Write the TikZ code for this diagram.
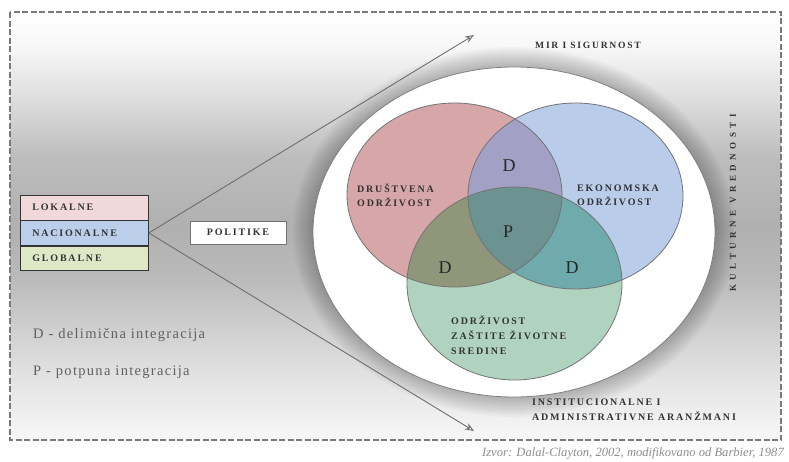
\documentclass[tikz,border=0pt]{standalone}
\usepackage{fontspec}
\setmainfont{Liberation Serif}
\newfontfamily\capsfont[LetterSpace=18]{Liberation Serif}
\newfontfamily\widecaps[LetterSpace=50]{Liberation Serif}
\newfontfamily\legendfont[LetterSpace=9]{Liberation Serif}
\usetikzlibrary{arrows.meta}

\definecolor{framegray}{HTML}{7A7A7A}
\definecolor{inkgray}{HTML}{333333}
\definecolor{linegray}{HTML}{6E6E6E}
\definecolor{boxpink}{HTML}{F1D9DB}
\definecolor{boxblue}{HTML}{BBCFEB}
\definecolor{boxgreen}{HTML}{DEE8C6}
\definecolor{vpink}{HTML}{D7A6A8}
\definecolor{vblue}{HTML}{B9CDEB}
\definecolor{vgreen}{HTML}{B0D3C0}
\definecolor{vpinkblue}{HTML}{A3A0C6}
\definecolor{vpinkgreen}{HTML}{8F967A}
\definecolor{vbluegreen}{HTML}{6FAAAC}
\definecolor{vcenter}{HTML}{6C9391}

% soft grey band across the middle of the panel
\pgfdeclareverticalshading{backdrop}{100bp}{%
  color(0bp)=(white); color(25bp)=(black!3); color(33bp)=(black!12);
  color(44bp)=(black!27); color(50bp)=(black!31); color(58bp)=(black!26);
  color(65bp)=(black!13); color(71bp)=(black!3); color(75bp)=(white);
  color(100bp)=(white)}

\def\pinkE{(454.5,195) ellipse [x radius=107.5pt, y radius=92pt]}
\def\blueE{(575.5,196) ellipse [x radius=107.5pt, y radius=93pt]}
\def\greenE{(514.5,283.5) ellipse [x radius=107.5pt, y radius=96.5pt]}

\begin{document}
\begin{tikzpicture}[x=1pt,y=-1pt,
  capslab/.style={inner sep=0pt, text=inkgray,
    font=\capsfont\bfseries\fontsize{10}{14}\selectfont},
  levelbox/.style={draw=inkgray, line width=0.8pt, anchor=north west,
    minimum height=24.5pt, inner xsep=12pt, text width=104pt,
    text=inkgray, font=\capsfont\bfseries\fontsize{10}{12}\selectfont},
  bigletter/.style={inner sep=0pt, text=black!85,
    font=\fontsize{18}{18}\selectfont},
  legend/.style={inner sep=0pt, anchor=west, text=black!62,
    font=\legendfont\fontsize{14.5}{16}\selectfont},
  conn/.style={draw=linegray, line width=0.9pt,
    -{Stealth[open, length=9pt, width=7pt]}},
  vennline/.style={draw=black!55, line width=0.8pt}]

\useasboundingbox (0,0) rectangle (789,461);

% panel with dashed border
\fill[shading=backdrop] (10,12) rectangle (781,440);
\draw[framegray, line width=2.4pt, dash pattern=on 6pt off 2.5pt]
  (10,12) rectangle (781,440);

% soft shadow round the white field
\foreach \g in {20,18,...,2}
  \fill[black, opacity=0.022] (514,232) ellipse [x radius=201pt+\g pt, y radius=165pt+\g pt];
\filldraw[fill=white, draw=black!50, line width=0.8pt]
  (514,232) ellipse [x radius=201pt, y radius=165pt];

% three overlapping fields
\fill[vpink] \pinkE;
\fill[vblue] \blueE;
\fill[vgreen] \greenE;
\begin{scope}\clip \pinkE; \fill[vpinkblue] \blueE; \end{scope}
\begin{scope}\clip \pinkE; \fill[vpinkgreen] \greenE; \end{scope}
\begin{scope}\clip \blueE; \fill[vbluegreen] \greenE; \end{scope}
\begin{scope}\clip \pinkE; \clip \blueE; \fill[vcenter] \greenE; \end{scope}
\draw[vennline] \pinkE;
\draw[vennline] \blueE;
\draw[vennline] \greenE;

% labels inside the fields
\node[capslab, align=left, anchor=west] (drus) at (357,195) {DRUŠTVENA\\ODRŽIVOST};
\node[capslab, align=left, anchor=west] (ekon) at (577,195) {EKONOMSKA\\ODRŽIVOST};
\node[capslab, align=left, anchor=west, font=\capsfont\bfseries\fontsize{10}{15}\selectfont]
  (zast) at (451,335) {ODRŽIVOST\\ZAŠTITE ŽIVOTNE\\SREDINE};
\node[bigletter] (dtop) at (509,166) {D};
\node[bigletter] (pmid) at (508,232) {P};
\node[bigletter] (dleft) at (445,268) {D};
\node[bigletter] (dright) at (572,268) {D};

% surrounding context labels
\node[capslab, font=\capsfont\bfseries\fontsize{9.6}{11}\selectfont] (mir) at (588,45) {MIR I SIGURNOST};
\node[capslab, rotate=90, font=\widecaps\bfseries\fontsize{9}{10}\selectfont] (kult) at (733,203) {KULTURNE VREDNOSTI};
\node[capslab, align=left, anchor=west, font=\capsfont\bfseries\fontsize{10}{15}\selectfont]
  (inst) at (532,409.5) {INSTITUCIONALNE I\\ADMINISTRATIVNE ARANŽMANI};

% levels of action
\node[levelbox, fill=boxpink] (lok) at (20,195) {LOKALNE};
\node[levelbox, fill=boxblue] (nac) at (lok.south west) {NACIONALNE};
\node[levelbox, fill=boxgreen] (glob) at (nac.south west) {GLOBALNE};
\node[draw=black!55, fill=white, line width=0.9pt, minimum width=96pt, minimum height=23pt,
  inner sep=0pt, text=inkgray, font=\capsfont\bfseries\fontsize{10}{12}\selectfont]
  (pol) at (238,232.5) {POLITIKE};

% policy reach
\coordinate (reachtop) at (474,35);
\coordinate (reachbot) at (474,431);
\draw[conn] (nac.east) -- (reachtop);
\draw[conn] (nac.east) -- (reachbot);

% key
\node[legend] (keyd) at (33,335) {D - delimična integracija};
\node[legend] (keyp) at (33,372) {P - potpuna integracija};

% source line
\node[inner sep=0pt, anchor=east, text=black!45, font=\itshape\fontsize{12.6}{14}\selectfont]
  (src) at (784,453) {Izvor: Dalal-Clayton, 2002, modifikovano od Barbier, 1987};

\end{tikzpicture}
\end{document}
